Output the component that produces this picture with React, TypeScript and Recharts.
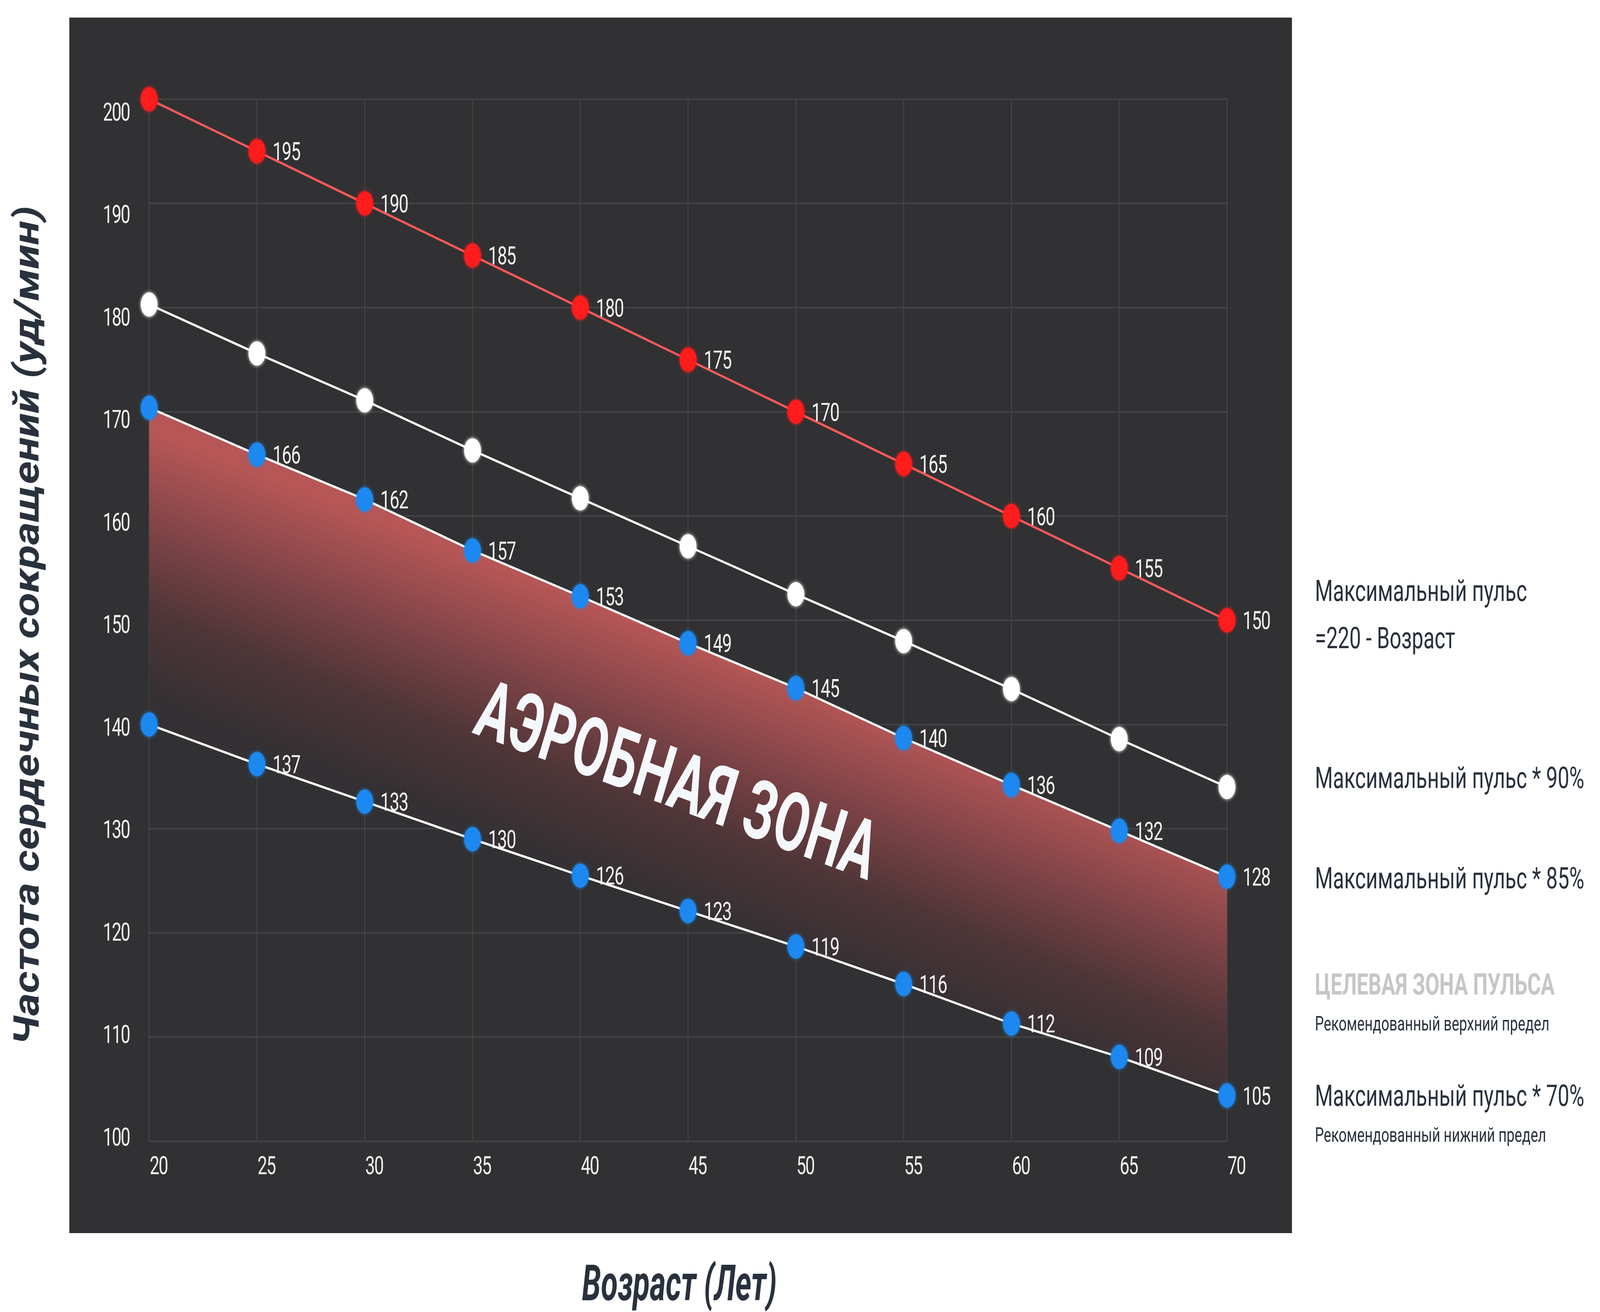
import React from "react";
import { ComposedChart, Line, Area, XAxis, YAxis, CartesianGrid, LabelList, ReferenceDot } from "recharts";

const FONT = "Roboto, 'Noto Sans', sans-serif";

// ages on the x axis
const ages = [20, 25, 30, 35, 40, 45, 50, 55, 60, 65, 70];
// max pulse = 220 - age
const maxPulse = [200, 195, 190, 185, 180, 175, 170, 165, 160, 155, 150];
// 90% line (white, no labels)
const pulse90 = [180.3, 175.6, 171.1, 166.3, 161.7, 157.1, 152.5, 148.0, 143.4, 138.6, 134.0];
// 85% line (upper edge of the zone)
const pulse85 = [170.4, 165.9, 161.6, 156.7, 152.3, 147.8, 143.5, 138.7, 134.2, 129.8, 125.4];
// 70% line (lower edge of the zone)
const pulse70 = [140.0, 136.2, 132.6, 129.0, 125.5, 122.1, 118.7, 115.1, 111.3, 108.1, 104.4];

// point labels as printed on the chart
const maxLabels = ["", "195", "190", "185", "180", "175", "170", "165", "160", "155", "150"];
const labels85 = ["", "166", "162", "157", "153", "149", "145", "140", "136", "132", "128"];
const labels70 = ["", "137", "133", "130", "126", "123", "119", "116", "112", "109", "105"];

const xTicks = [20, 25, 30, 35, 40, 45, 50, 55, 60, 65, 70];
const yTicks = [100, 110, 120, 130, 140, 150, 160, 170, 180, 190, 200];

const zoneTitle = "АЭРОБНАЯ ЗОНА";
const zoneAge = 44.5;
const zonePulse = 134.8;

const rows = ages.map((age, i) => ({
  age,
  max: maxPulse[i],
  p90: pulse90[i],
  p85: pulse85[i],
  p70: pulse70[i],
  band: [pulse70[i], pulse85[i]],
  maxLabel: maxLabels[i],
  p85Label: labels85[i],
  p70Label: labels70[i],
}));

if (typeof document !== "undefined") {
  document.body.style.margin = "0";
  document.documentElement.style.overflow = "hidden";
}

const YTick = (props: any) => {
  const v = props.payload.value;
  const shift = 32 - (200 - v) * 0.44;
  return (
    <text x={props.x} y={props.y + shift + 23} textAnchor="end" fill="#f0f0f0" fontSize={64} letterSpacing={-3} fontFamily={FONT}>
      {v}
    </text>
  );
};

const XTick = (props: any) => (
  <text x={props.x + 2} y={props.y + 84} textAnchor="start" fill="#f0f0f0" fontSize={64} letterSpacing={-3} fontFamily={FONT}>
    {props.payload.value}
  </text>
);

const PointLabel = (props: any) => {
  if (!props.value) return null;
  return (
    <text x={props.x + 58} y={props.y + 23} fill="#f2f2f2" fontSize={64} letterSpacing={-2} fontFamily={FONT}>
      {props.value}
    </text>
  );
};

const makeDot = (color: string) => (p: any) => (
  <circle key={`${color}-${p.index}`} cx={p.cx} cy={p.cy} r={31} fill={color} filter="url(#dotGlow)" />
);

const ZoneLabel = (p: any) => {
  const { x, y } = p.viewBox;
  return (
    <text
      x={x}
      y={y}
      dy={76}
      transform={`rotate(14.5, ${x}, ${y})`}
      textAnchor="middle"
      fill="#f5f8fb"
      fontSize={214}
      fontWeight={700}
      fontStyle="italic"
      fontFamily={FONT}
      textLength={1512}
      lengthAdjust="spacingAndGlyphs"
    >
      {zoneTitle}
    </text>
  );
};

export default function App() {
  const W = 5911;
  const H = 3360;
  // the browser caps the window width, so the drawing is fitted to whatever viewport we get
  const vw = typeof window !== "undefined" ? window.innerWidth : W;
  const vh = typeof window !== "undefined" ? window.innerHeight : H;
  const sx = vw / W;
  const sy = vh / H;
  return (
    <div style={{ position: "absolute", left: 0, top: 0, width: vw, height: vh, overflow: "hidden", background: "#fff" }}>
      <div style={{ position: "absolute", left: 0, top: 0, width: W, height: H, transformOrigin: "0 0", transform: `scale(${sx}, ${sy})`, fontFamily: FONT }}>
        <div style={{ position: "absolute", left: 256, top: 45, width: 4517, height: 3113, background: "#313133" }} />
        <div style={{ position: "absolute", left: 0, top: 0 }}>
          <ComposedChart width={W} height={H} data={rows} margin={{ top: 254, right: 1378, bottom: 337, left: 351 }}>
            <defs>
              <linearGradient id="zoneFill" x1="0.5" y1="0.341" x2="0.327" y2="0.625">
                <stop offset="0" stopColor="#b65656" />
                <stop offset="0.33" stopColor="#834548" />
                <stop offset="0.67" stopColor="#4e3538" />
                <stop offset="1" stopColor="#343033" />
              </linearGradient>
              <filter id="dotGlow" x="-50%" y="-50%" width="200%" height="200%">
                <feGaussianBlur in="SourceGraphic" stdDeviation="5" result="b" />
                <feMerge>
                  <feMergeNode in="b" />
                  <feMergeNode in="SourceGraphic" />
                </feMerge>
              </filter>
            </defs>
            <CartesianGrid stroke="#454547" strokeWidth={3.5} />
            <XAxis
              dataKey="age"
              type="number"
              domain={[20, 70]}
              ticks={xTicks}
              interval={0}
              height={100}
              axisLine={false}
              tickLine={false}
              tickSize={0}
              tickMargin={0}
              tick={XTick}
            />
            <YAxis
              type="number"
              domain={[100, 200]}
              ticks={yTicks}
              interval={0}
              width={200}
              axisLine={false}
              tickLine={false}
              tickSize={0}
              tickMargin={72}
              tick={YTick}
            />
            <Area dataKey="band" type="linear" fill="url(#zoneFill)" fillOpacity={1} stroke="none" isAnimationActive={false} />
            <ReferenceDot x={zoneAge} y={zonePulse} r={0} fill="none" stroke="none" ifOverflow="visible" label={{ content: ZoneLabel }} />
            <Line dataKey="max" type="linear" stroke="#ff5a5a" strokeWidth={6} dot={makeDot("#ff1a1a")} activeDot={false} isAnimationActive={false}>
              <LabelList dataKey="maxLabel" content={PointLabel} />
            </Line>
            <Line dataKey="p90" type="linear" stroke="#ffffff" strokeWidth={6} dot={makeDot("#ffffff")} activeDot={false} isAnimationActive={false} />
            <Line dataKey="p85" type="linear" stroke="#ffffff" strokeWidth={6} dot={makeDot("#1b88f0")} activeDot={false} isAnimationActive={false}>
              <LabelList dataKey="p85Label" content={PointLabel} />
            </Line>
            <Line dataKey="p70" type="linear" stroke="#ffffff" strokeWidth={6} dot={makeDot("#1b88f0")} activeDot={false} isAnimationActive={false}>
              <LabelList dataKey="p70Label" content={PointLabel} />
            </Line>
          </ComposedChart>
        </div>
        <svg width={W} height={H} style={{ position: "absolute", left: 0, top: 0, pointerEvents: "none" }}>
          <text
            transform="translate(143,1602) rotate(-90)"
            textAnchor="middle"
            fill="#29313d"
            fontSize={132}
            fontWeight={700}
            fontStyle="italic"
            fontFamily={FONT}
            textLength={2150}
            lengthAdjust="spacingAndGlyphs"
          >
            Частота сердечных сокращений (уд/мин)
          </text>
          <text
            x={2510}
            y={3330}
            textAnchor="middle"
            fill="#29313d"
            fontSize={128}
            fontWeight={700}
            fontStyle="italic"
            fontFamily={FONT}
            textLength={720}
            lengthAdjust="spacingAndGlyphs"
          >
            Возраст (Лет)
          </text>
          <g fontFamily={FONT} fill="#29313d">
            <text x={4858} y={1539} fontSize={76}>Максимальный пульс</text>
            <text x={4858} y={1660} fontSize={76}>=220 - Возраст</text>
            <text x={4858} y={2018} fontSize={76}>Максимальный пульс * 90%</text>
            <text x={4858} y={2275} fontSize={76}>Максимальный пульс * 85%</text>
            <text x={4858} y={2547} fontSize={76} fontWeight={700} fill="#c4c6c8">ЦЕЛЕВАЯ ЗОНА ПУЛЬСА</text>
            <text x={4858} y={2639} fontSize={52}>Рекомендованный верхний предел</text>
            <text x={4858} y={2832} fontSize={76}>Максимальный пульс * 70%</text>
            <text x={4858} y={2924} fontSize={52}>Рекомендованный нижний предел</text>
          </g>
        </svg>
      </div>
    </div>
  );
}
